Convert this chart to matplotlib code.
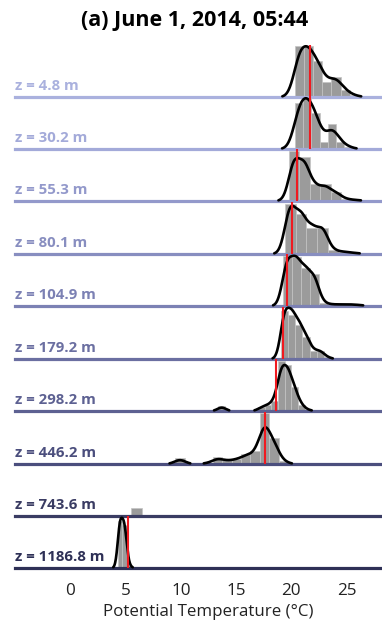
import numpy as np
import matplotlib.pyplot as plt

plt.rcParams['font.family'] = ['Open Sans', 'DejaVu Sans']

depths = [4.8, 30.2, 55.3, 80.1, 104.9, 179.2, 298.2, 446.2, 743.6, 1186.8]
line_colors = ['#aab1de', '#a3aad9', '#9399cb', '#888ec0', '#7c81b4', '#6b6fa1',
               '#5d6192', '#4b4e7d', '#3a3c63', '#2e3056']

# histogram per depth: left edge of first bin, bin width, bar heights (row-relative)
bin_start = [20.3, 20.3, 19.77, 19.4, 19.2, 19.05, 13.4, 9.5, 5.5, 4.3]
bin_width = [0.83, 0.75, 0.95, 0.98, 0.82, 0.65, 0.6, 0.85, 0.95, 0.4]
bars_z4 = [0.97, 0.97, 0.68, 0.28, 0.39, 0.13, 0.03]
bars_z30 = [0.88, 0.97, 0.69, 0.13, 0.47, 0.13, 0.04]
bars_z55 = [0.95, 0.85, 0.32, 0.32, 0.18, 0.04, 0.02]
bars_z80 = [0.95, 0.76, 0.50, 0.50, 0.07, 0.04, 0.02]
bars_z105 = [0.95, 0.94, 0.73, 0.61, 0.06, 0.03, 0.03, 0.03, 0.02]
bars_z179 = [0.92, 0.85, 0.65, 0.42, 0.15, 0.15, 0.03]
bars_z298 = [0.10, 0, 0, 0, 0, 0, 0.08, 0.12, 0.20, 0.95, 0.87, 0.45, 0.12, 0.02]
bars_z446 = [0.12, 0, 0, 0.02, 0.13, 0.07, 0.10, 0.19, 0.24, 0.97, 0.49, 0.06]
bars_z744 = [0.16]
bars_z1187 = [0.90, 0.82, 0.05]
bar_heights = [bars_z4, bars_z30, bars_z55, bars_z80, bars_z105, bars_z179,
               bars_z298, bars_z446, bars_z744, bars_z1187]

# kernel width and peak height of the density curve, mean temperature (red line)
kde_sigma = [0.55, 0.55, 0.5, 0.5, 0.45, 0.38, 0.38, 0.5, None, 0.22]
kde_peak = [0.97, 0.97, 0.82, 0.92, 0.96, 0.98, 0.88, 0.70, None, 0.96]
mean_temp = [21.66, 21.66, 20.55, 20.05, 19.65, 19.25, 18.6, 17.6, None, 5.2]

W, H = 382, 623
fig = plt.figure(figsize=(W / 100, H / 100), dpi=100)

baseline_px = [97, 149, 201, 254, 306, 359, 411, 464, 516, 568]
row_h = 52.3
left_px = 15
xs = np.linspace(-5, 28.2, 1500)

for i, z in enumerate(depths):
    ax = fig.add_axes([left_px / W, 1 - baseline_px[i] / H, 1 - left_px / W, row_h / H])
    ax.patch.set_visible(False)
    ax.set_xlim(-5, 28.2)
    ax.set_ylim(0, 1)
    for s in ax.spines.values():
        s.set_visible(False)
    ax.set_yticks([])

    h = np.array(bar_heights[i], dtype=float)
    w = bin_width[i]
    lefts = bin_start[i] + w * np.arange(len(h))
    ax.bar(lefts, h, width=w, align='edge', color='#9b9b9b',
           edgecolor='#c4c4c4', linewidth=0.5, zorder=1, clip_on=False)

    ax.axhline(0, color=line_colors[i], lw=2.3, zorder=2, clip_on=False)

    if kde_sigma[i] is not None:
        centers = lefts + w / 2
        sig = kde_sigma[i]
        dens = (h[None, :] * w * np.exp(-0.5 * ((xs[:, None] - centers[None, :]) / sig) ** 2)
                / (np.sqrt(2 * np.pi) * sig)).sum(axis=1)
        dens = dens / dens.max() * kde_peak[i]
        dens[dens < 0.012] = np.nan
        ax.plot(xs, dens, color='black', lw=1.9, zorder=3, clip_on=False,
                solid_capstyle='round')

    if mean_temp[i] is not None:
        ax.axvline(mean_temp[i], ymin=0, ymax=0.98, color='#f01a20', lw=1.5, zorder=4)

    ax.text(0, 0.13, f'z = {z} m', transform=ax.transAxes, ha='left',
            va='baseline', fontsize=10.8, fontweight='bold', color=line_colors[i])

    if i == len(depths) - 1:
        ax.set_xticks([0, 5, 10, 15, 20, 25])
        ax.tick_params(axis='x', length=0, pad=11, labelsize=12.3, labelcolor='#222222')
    else:
        ax.set_xticks([])

fig.text(195 / W, 1 - 20.7 / H, '(a) June 1, 2014, 05:44', ha='center', va='center',
         fontsize=15.5, fontweight='bold')
fig.text(208 / W, 1 - 612.3 / H, 'Potential Temperature (°C)', ha='center', va='center',
         fontsize=12.2, color='#222222')

fig.savefig('out.png', dpi=100)
